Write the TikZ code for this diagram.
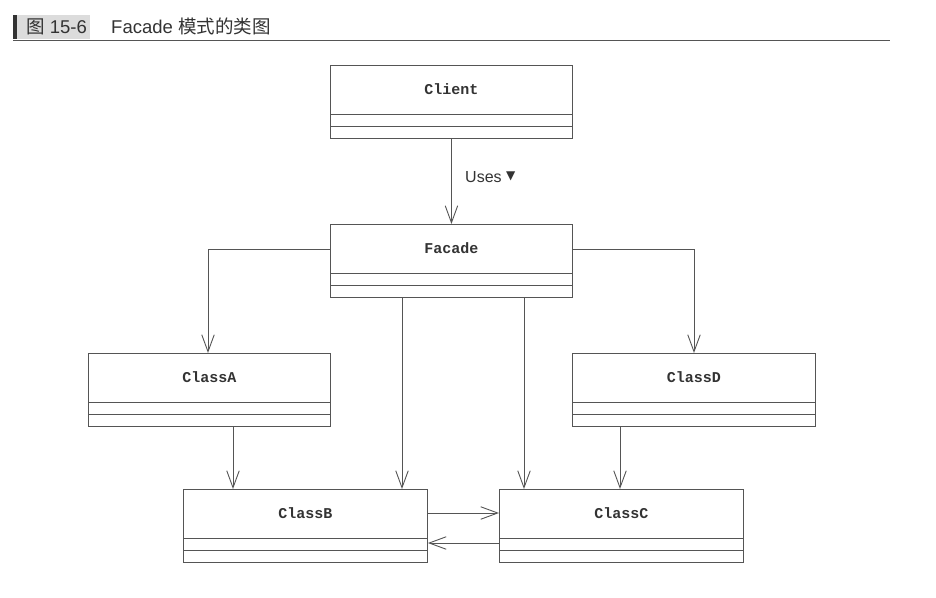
\documentclass[tikz,border=0pt]{standalone}
\usepackage{fontspec}
\setmainfont{Liberation Sans}
\newfontfamily\cjk{Noto Sans CJK SC}
\newfontfamily\monob{Liberation Mono}
\newfontfamily\dejavu{DejaVu Sans}
\usetikzlibrary{arrows.meta,calc}
\definecolor{ink}{HTML}{333333}
\definecolor{linec}{HTML}{555555}
\definecolor{titlebg}{HTML}{DCDCDC}
\tikzset{
  cls/.style={draw=linec, line width=0.9pt, minimum height=73pt, inner sep=0pt, anchor=north west},
  clsname/.style={font=\monob\bfseries\fontsize{15}{17}\selectfont, text=ink},
  divider/.style={draw=linec, line width=0.9pt},
  dep/.style={draw=linec, line width=0.9pt, -{Straight Barb[length=17pt,width=12.5pt,line width=0.9pt]}},
  titletext/.style={font=\fontsize{18.5}{20}\selectfont, text=ink, inner sep=0pt, anchor=base west},
}
\newcommand\umlbox[5]{%
  \node[cls, minimum width=#4pt] (#1) at (#2,#3) {};
  \node[clsname] (#1-name) at ($(#1.north)+(0,24)$) {#5};
  \draw[divider] ($(#1.south west)+(0,-24)$) -- ($(#1.south east)+(0,-24)$);
  \draw[divider] ($(#1.south west)+(0,-12)$) -- ($(#1.south east)+(0,-12)$);
}
\begin{document}
\begin{tikzpicture}[x=1pt, y=-1pt]
  \useasboundingbox[fill=white] (0,0) rectangle (936,597);
  % title
  \fill[titlebg] (17,15) rectangle (90,39);
  \fill[ink] (13,15) rectangle (17,39);
  \draw[linec, line width=0.9pt] (13,40) -- (890,40);
  \node[titletext] (t1) at (26,33) {{\cjk 图} 15-6};
  \node[titletext] (t2) at (111,33) {Facade {\cjk 模式的类图}};
  % classes
  \umlbox{client}{330}{65}{242}{Client}
  \umlbox{facade}{330}{224}{242}{Facade}
  \umlbox{classA}{88}{353}{242}{ClassA}
  \umlbox{classD}{572}{353}{243}{ClassD}
  \umlbox{classB}{183}{489}{244}{ClassB}
  \umlbox{classC}{499}{489}{244}{ClassC}
  % connectors
  \draw[dep] (client.south) -- (facade.north);
  \node[font=\fontsize{16}{18}\selectfont, text=ink, anchor=base west, inner sep=0pt] (uses) at (465,182) {Uses \raisebox{2.5pt}{\dejavu\fontsize{12}{12}\selectfont ▼}};
  \draw[dep] (facade.west |- 0,249) -| (classA.north -| 208,0);
  \draw[dep] (facade.east |- 0,249) -| (classD.north -| 694,0);
  \draw[dep] (facade.south -| 402,0) -- (classB.north -| 402,0);
  \draw[dep] (facade.south -| 524,0) -- (classC.north -| 524,0);
  \draw[dep] (classA.south -| 233,0) -- (classB.north -| 233,0);
  \draw[dep] (classD.south -| 620,0) -- (classC.north -| 620,0);
  \draw[dep] (classB.east |- 0,513) -- (classC.west |- 0,513);
  \draw[dep] (classC.west |- 0,543) -- (classB.east |- 0,543);
\end{tikzpicture}
\end{document}
